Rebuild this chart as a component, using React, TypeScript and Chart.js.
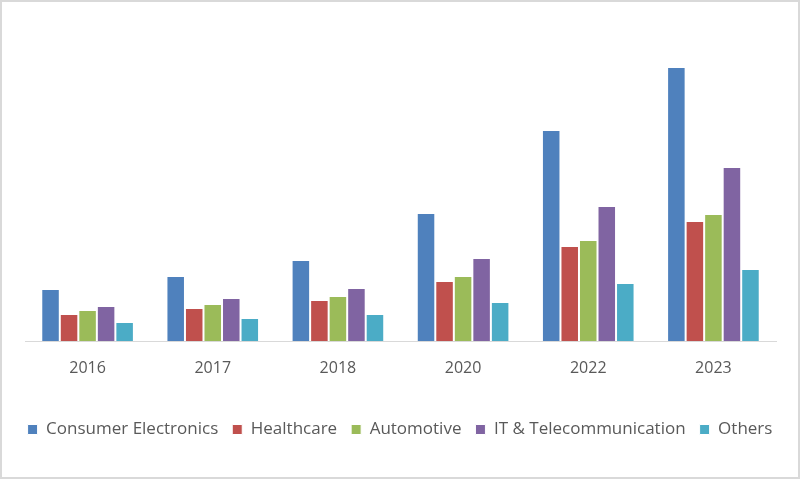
import React, { useEffect, useRef } from "react";
import { Chart, registerables } from "chart.js";

Chart.register(...registerables);

const years = ["2016", "2017", "2018", "2020", "2022", "2023"];
const consumerElectronics = [52, 65, 81, 128, 211, 274];
const healthcare = [27, 33, 41, 60, 95, 120];
const automotive = [31, 37, 45, 65, 101, 127];
const itTelecom = [35, 43, 53, 83, 135, 174];
const others = [19, 23, 27, 39, 58, 72];

const seriesNames = ["Consumer Electronics", "Healthcare", "Automotive", "IT & Telecommunication", "Others"];
const seriesColors = ["#4F81BD", "#C0504D", "#9BBB59", "#8064A2", "#4BACC6"];
const seriesValues = [consumerElectronics, healthcare, automotive, itTelecom, others];

const FONT = "'Open Sans', 'Noto Sans', sans-serif";

export default function App() {
  const ref = useRef<HTMLCanvasElement | null>(null);

  useEffect(() => {
    document.body.style.margin = "0";
    const ctx = ref.current!;
    const chart = new Chart(ctx, {
      type: "bar",
      data: {
        labels: years,
        datasets: seriesNames.map((name, i) => ({
          label: name,
          data: seriesValues[i],
          backgroundColor: seriesColors[i],
          borderColor: "#ffffff",
          borderWidth: 1,
          categoryPercentage: 0.74,
          barPercentage: 1.0,
          yAxisID: "y",
        })),
      },
      options: {
        responsive: false,
        animation: false,
        layout: { padding: { top: 41, left: 0, right: 0, bottom: 31 } },
        plugins: {
          legend: {
            position: "bottom",
            labels: {
              boxWidth: 10,
              boxHeight: 10,
              padding: 14,
              color: "#595959",
              font: { family: FONT, size: 17 },
            },
          },
          tooltip: { enabled: false },
        },
        scales: {
          y: {
            display: true,
            position: "left",
            min: 0,
            max: 300,
            grid: { display: false },
            border: { display: false },
            ticks: { display: false },
            afterFit: (s: any) => {
              s.width = 25;
            },
          },
          yRight: {
            display: true,
            position: "right",
            min: 0,
            max: 300,
            grid: { display: false },
            border: { display: false },
            ticks: { display: false },
            afterFit: (s: any) => {
              s.width = 24;
            },
          },
          x: {
            grid: { display: false },
            border: { color: "#d9d9d9", width: 1 },
            ticks: { color: "#595959", font: { family: FONT, size: 16 }, padding: 10 },
            afterFit: (s: any) => {
              s.height = 66;
            },
          },
        },
      },
    });
    return () => chart.destroy();
  }, []);

  return (
    <div
      style={{
        position: "absolute",
        left: 0,
        top: 0,
        width: 800,
        height: 479,
        background: "#ffffff",
        boxShadow: "inset 0 0 0 2px #d9d9d9",
      }}
    >
      <canvas ref={ref} width={800} height={479} style={{ position: "absolute", left: 0, top: 0 }} />
    </div>
  );
}
